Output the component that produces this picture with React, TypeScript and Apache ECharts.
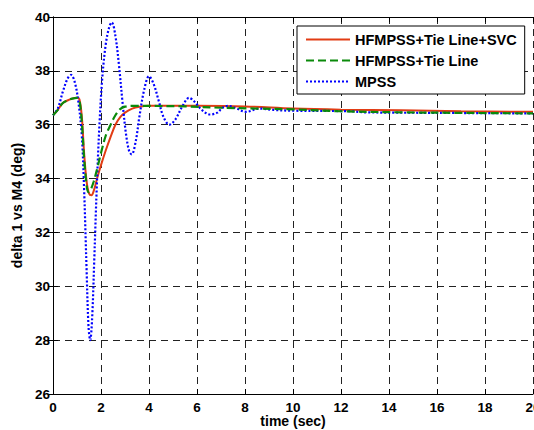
import React, { useEffect, useRef } from "react";
import * as echarts from "echarts";

const xTicks = [0, 2, 4, 6, 8, 10, 12, 14, 16, 18, 20];
const yTicks = [26, 28, 30, 32, 34, 36, 38, 40];

const seriesNames = ["HFMPSS+Tie Line+SVC", "HFMPSS+Tie Line", "MPSS"];

// [time (sec), delta (deg)]
const redSvc: [number, number][] = [
  [0, 36.35], [0.2, 36.55], [0.4, 36.8], [0.6, 36.9], [0.8, 36.97], [1.0, 37.0],
  [1.1, 36.95], [1.2, 36.3], [1.3, 34.9], [1.4, 33.9], [1.5, 33.45], [1.6, 33.38],
  [1.7, 33.55], [1.85, 34.05], [2.0, 34.5], [2.2, 35.05], [2.4, 35.55], [2.6, 36.0],
  [2.8, 36.28], [3.0, 36.45], [3.3, 36.6], [3.6, 36.67], [4, 36.7], [6, 36.7],
  [8, 36.68], [10, 36.6], [12, 36.56], [14.5, 36.54], [17, 36.5], [20, 36.48],
];

const greenTie: [number, number][] = [
  [0, 36.35], [0.2, 36.55], [0.4, 36.8], [0.6, 36.9], [0.8, 36.97], [1.0, 37.0],
  [1.1, 36.9], [1.2, 36.1], [1.3, 34.7], [1.4, 33.75], [1.47, 33.5], [1.55, 33.55],
  [1.7, 33.9], [1.85, 34.4], [2.0, 34.95], [2.2, 35.6], [2.4, 36.0], [2.6, 36.35],
  [2.8, 36.58], [3.0, 36.67], [3.3, 36.7], [5.5, 36.68], [7, 36.63], [8.5, 36.6],
  [10, 36.57], [12, 36.5], [14.5, 36.46], [17, 36.44], [20, 36.42],
];

const blueMpss: [number, number][] = [
  [0, 36.35], [0.2, 36.6], [0.4, 37.2], [0.6, 37.7], [0.75, 37.85], [0.9, 37.6],
  [1.05, 36.9], [1.2, 35.6], [1.3, 33.5], [1.4, 30.6], [1.48, 28.5], [1.55, 28.0],
  [1.63, 28.8], [1.72, 31.0], [1.82, 33.6], [1.93, 35.9], [2.05, 37.7], [2.2, 39.0],
  [2.35, 39.65], [2.45, 39.8], [2.6, 39.3], [2.75, 38.2], [2.9, 36.8], [3.05, 35.6],
  [3.18, 35.0], [3.28, 34.9], [3.45, 35.4], [3.6, 36.3], [3.8, 37.3], [4.0, 37.8],
  [4.2, 37.5], [4.4, 36.9], [4.6, 36.3], [4.85, 36.0], [5.1, 36.2], [5.4, 36.7],
  [5.67, 37.0], [5.9, 36.85], [6.2, 36.55], [6.55, 36.38], [6.85, 36.45], [7.05, 36.62],
  [7.3, 36.7], [7.6, 36.62], [8.05, 36.48], [8.6, 36.6], [9.2, 36.55], [10, 36.52],
  [12.4, 36.5], [13, 36.46], [16, 36.44], [20, 36.42],
];

const FONT = "'Liberation Sans', Arial, sans-serif";

export default function App() {
  const ref = useRef<HTMLDivElement>(null);

  useEffect(() => {
    document.body.style.margin = "0";
    if (!ref.current) return;
    const chart = echarts.init(ref.current, undefined, { renderer: "svg" });

    const gridDash = { color: "#222", width: 1, type: [7, 5] as number[] };
    const tickLabel = { color: "#000", fontFamily: FONT, fontWeight: "bold" as const, fontSize: 13.5 };

    chart.setOption({
      animation: false,
      backgroundColor: "#fff",
      grid: { left: 53, right: 1, top: 17, bottom: 36, containLabel: false, outerBoundsMode: "none" },
      legend: {
        show: true,
        orient: "vertical",
        left: 297,
        top: 26,
        padding: [6, 8, 5, 8],
        itemGap: 6,
        itemWidth: 44,
        itemHeight: 14,
        backgroundColor: "#fff",
        borderColor: "#000",
        borderWidth: 1,
        borderRadius: 0,
        itemStyle: { opacity: 0 },
        data: seriesNames,
        textStyle: { color: "#000", fontFamily: FONT, fontWeight: "bold", fontSize: 14.5, padding: [0, 0, 0, 0] },
      },
      xAxis: [
        {
          type: "value",
          min: 0,
          max: 20,
          interval: 2,
          name: "time (sec)",
          nameLocation: "middle",
          nameGap: 20,
          nameMoveOverlap: false,
          nameTextStyle: { color: "#000", fontFamily: FONT, fontWeight: "bold", fontSize: 14, verticalAlign: "top", lineHeight: 14 },
          axisLine: { show: true, lineStyle: { color: "#000", width: 1 } },
          axisTick: { show: true, inside: true, length: 5, lineStyle: { color: "#000" } },
          axisLabel: { ...tickLabel, margin: 6, customValues: xTicks },
          splitLine: { show: true, lineStyle: gridDash },
        },
        {
          type: "value",
          position: "top",
          min: 0,
          max: 20,
          interval: 2,
          axisLine: { show: true, lineStyle: { color: "#000", width: 1 } },
          axisTick: { show: true, inside: true, length: 5, lineStyle: { color: "#000" } },
          axisLabel: { show: false },
          splitLine: { show: false },
        },
      ],
      yAxis: [
        {
          type: "value",
          min: 26,
          max: 40,
          interval: 2,
          name: "delta 1 vs M4 (deg)",
          nameLocation: "middle",
          nameGap: 28,
          nameTextStyle: { color: "#000", fontFamily: FONT, fontWeight: "bold", fontSize: 14 },
          axisLine: { show: true, lineStyle: { color: "#000", width: 1 } },
          axisTick: { show: true, inside: true, length: 5, lineStyle: { color: "#000" } },
          axisLabel: { ...tickLabel, margin: 3, customValues: yTicks },
          splitLine: { show: true, lineStyle: gridDash },
        },
        {
          type: "value",
          position: "right",
          min: 26,
          max: 40,
          interval: 2,
          axisLine: { show: true, lineStyle: { color: "#000", width: 1 } },
          axisTick: { show: true, inside: true, length: 5, lineStyle: { color: "#000" } },
          axisLabel: { show: false },
          splitLine: { show: false },
        },
      ],
      series: [
        {
          name: seriesNames[2],
          type: "line",
          data: blueMpss,
          smooth: 0.35,
          showSymbol: false,
          symbol: "none",
          z: 3,
          lineStyle: { color: "#0000ff", width: 2.2, type: [2, 2] },
          itemStyle: { color: "#0000ff" },
        },
        {
          name: seriesNames[1],
          type: "line",
          data: greenTie,
          smooth: 0.35,
          showSymbol: false,
          symbol: "none",
          z: 4,
          lineStyle: { color: "#0a8a0a", width: 2.2, type: [8, 4] },
          itemStyle: { color: "#0a8a0a" },
        },
        {
          name: seriesNames[0],
          type: "line",
          data: redSvc,
          smooth: 0.35,
          showSymbol: false,
          symbol: "none",
          z: 2,
          lineStyle: { color: "#e23c14", width: 2 },
          itemStyle: { color: "#e23c14" },
        },
      ],
    });

    return () => chart.dispose();
  }, []);

  return <div ref={ref} style={{ width: 534, height: 430, position: "absolute", left: 0, top: 0 }} />;
}
